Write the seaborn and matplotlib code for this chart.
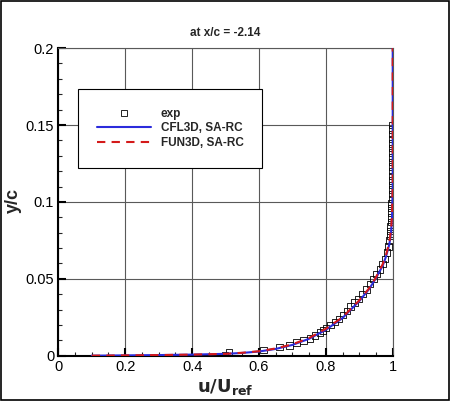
import numpy as np
import pandas as pd
import matplotlib
matplotlib.use("Agg")
import matplotlib.pyplot as plt
import seaborn as sns
from matplotlib.lines import Line2D
from matplotlib.patches import Rectangle

# ---- data ----
exp_u = [0.498, 0.511, 0.613, 0.661, 0.691, 0.713, 0.733, 0.753, 0.768, 0.783,
         0.792, 0.800, 0.814, 0.827, 0.840, 0.852, 0.863, 0.874, 0.886, 0.897,
         0.910, 0.922, 0.932, 0.942, 0.952, 0.962, 0.970, 0.977, 0.983, 0.987,
         0.990, 0.992, 0.993, 0.994, 0.995, 0.996, 0.996, 0.997, 0.997, 0.998,
         0.998, 0.998, 0.999, 0.999, 0.999, 0.999, 1.000, 1.000, 1.000, 1.000,
         1.000, 1.000, 1.000, 1.000, 1.000, 1.000]
exp_y = [0.0005, 0.0020, 0.0037, 0.0055, 0.0065, 0.0085, 0.0100, 0.0113, 0.0130, 0.0150,
         0.0165, 0.0180, 0.0200, 0.0220, 0.0240, 0.0265, 0.0290, 0.0320, 0.0345, 0.0370,
         0.0400, 0.0430, 0.0465, 0.0500, 0.0530, 0.0560, 0.0595, 0.0630, 0.0670, 0.0710,
         0.0750, 0.0780, 0.0810, 0.0840, 0.0870, 0.0900, 0.0930, 0.0960, 0.0990, 0.1020,
         0.1050, 0.1080, 0.1110, 0.1140, 0.1170, 0.1200, 0.1230, 0.1260, 0.1290, 0.1320,
         0.1350, 0.1380, 0.1410, 0.1440, 0.1470, 0.1500]

cfl3d_u = [0.10, 0.20, 0.30, 0.40, 0.50, 0.55, 0.60, 0.65, 0.70, 0.75, 0.80, 0.85,
           0.90, 0.93, 0.95, 0.97, 0.98, 0.99, 0.995, 0.998, 1.000, 1.000]
cfl3d_y = [0.0000, 0.0002, 0.0004, 0.0007, 0.0012, 0.0018, 0.0027, 0.0044, 0.0070, 0.0110,
           0.0168, 0.0245, 0.0355, 0.0435, 0.0505, 0.0585, 0.0645, 0.0725, 0.0800, 0.0900,
           0.1100, 0.2000]

fun3d_u = [0.10, 0.20, 0.30, 0.40, 0.50, 0.55, 0.60, 0.65, 0.70, 0.75, 0.80, 0.85,
           0.90, 0.93, 0.95, 0.97, 0.98, 0.99, 0.995, 0.998, 1.000, 1.000]
fun3d_y = [0.0000, 0.0002, 0.0004, 0.0007, 0.0012, 0.0019, 0.0029, 0.0047, 0.0074, 0.0115,
           0.0175, 0.0250, 0.0360, 0.0440, 0.0510, 0.0595, 0.0655, 0.0740, 0.0820, 0.0920,
           0.1120, 0.2000]

x_ticks = [0, 0.2, 0.4, 0.6, 0.8, 1.0]
x_tick_labels = ["0", "0.2", "0.4", "0.6", "0.8", "1"]
y_ticks = [0, 0.05, 0.1, 0.15, 0.2]
y_tick_labels = ["0", "0.05", "0.1", "0.15", "0.2"]

labels = ["exp", "CFL3D, SA-RC", "FUN3D, SA-RC"]
colors = {"CFL3D, SA-RC": "#2b2bdc", "FUN3D, SA-RC": "#d41a1a"}

# ---- build frames ----
exp_df = pd.DataFrame({"u": exp_u, "y": exp_y})
lines_df = pd.concat([
    pd.DataFrame({"u": cfl3d_u, "y": cfl3d_y, "case": labels[1]}),
    pd.DataFrame({"u": fun3d_u, "y": fun3d_y, "case": labels[2]}),
], ignore_index=True)

sns.set_style("ticks")
plt.rcParams["font.family"] = ["Liberation Sans", "DejaVu Sans"]

fig = plt.figure(figsize=(4.5, 4.01), dpi=100)
ax = fig.add_axes([0.1296, 0.113, 0.7431, 0.767])

ax.grid(True, which="major", color="0.35", linewidth=0.8)
ax.set_axisbelow(True)

sns.lineplot(data=lines_df, x="u", y="y", hue="case", style="case",
             palette=colors, dashes={labels[1]: "", labels[2]: (4, 3)},
             sort=False, estimator=None, linewidth=1.5, ax=ax, legend=False,
             zorder=3)
sns.scatterplot(data=exp_df, x="u", y="y", marker="s", s=22,
                facecolor="none", edgecolor="black", linewidth=0.6,
                ax=ax, legend=False, zorder=2)

ax.set_xlim(0, 1)
ax.set_ylim(0, 0.2)
ax.set_xticks(x_ticks)
ax.set_xticklabels(x_tick_labels)
ax.set_yticks(y_ticks)
ax.set_yticklabels(y_tick_labels)
ax.set_xticks(np.arange(0, 1.0001, 0.05), minor=True)
ax.set_yticks(np.arange(0, 0.2001, 0.01), minor=True)
ax.tick_params(axis="both", which="major", direction="in", length=6, width=1.5,
               labelsize=10.5, colors="black", pad=3)
ax.tick_params(axis="both", which="minor", direction="in", length=3, width=0.8)
ax.tick_params(top=False, right=False, which="both")

for s in ["left", "bottom"]:
    ax.spines[s].set_color("black")
    ax.spines[s].set_linewidth(1.5)
for s in ["top", "right"]:
    ax.spines[s].set_color("0.35")
    ax.spines[s].set_linewidth(0.8)

ax.set_xlabel(r"$\mathbf{u/U_{ref}}$", fontsize=13, labelpad=2)
ax.set_ylabel("y/c", fontsize=13, fontweight="bold")
ax.yaxis.label.set_verticalalignment("center")
ax.yaxis.set_label_coords(-0.135, 0.503)
ax.set_title("at x/c = -2.14", fontsize=8.5, fontweight="bold", pad=9)

handles = [
    Line2D([], [], marker="s", linestyle="none", markerfacecolor="none",
           markeredgecolor="black", markersize=4.5, markeredgewidth=0.6),
    Line2D([], [], color=colors[labels[1]], linewidth=1.5),
    Line2D([], [], color=colors[labels[2]], linewidth=1.5, linestyle=(0, (4, 3))),
]
leg = ax.legend(handles, labels, loc="upper left", bbox_to_anchor=(0.059, 0.867),
                prop={"weight": "bold", "size": 8.5}, frameon=True, fancybox=False,
                edgecolor="black", framealpha=1, borderpad=1.6, handlelength=4.6,
                handletextpad=0.8, labelspacing=0.2, borderaxespad=0)
leg.get_frame().set_linewidth(0.8)

fig.patches.append(Rectangle((0.002, 0.002), 0.996, 0.996, transform=fig.transFigure,
                             fill=False, edgecolor="black", linewidth=1.2))

fig.savefig("out.png", dpi=100)
